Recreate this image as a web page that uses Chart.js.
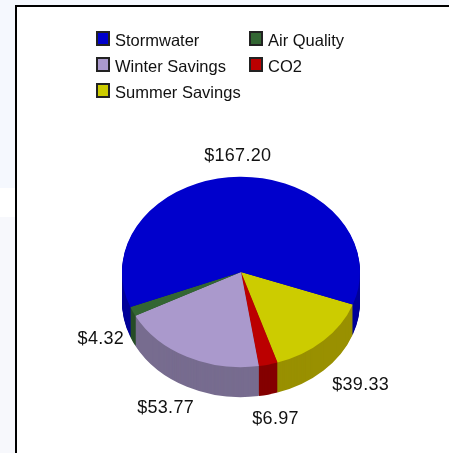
<!DOCTYPE html>
<html>
<head>
<meta charset="utf-8">
<title>Savings pie</title>
<script src="https://cdn.jsdelivr.net/npm/chart.js@4"></script>
<style>
  html, body { margin: 0; padding: 0; width: 449px; height: 453px; overflow: hidden; }
  body { background: linear-gradient(#f5f8fe 0, #f5f8fe 188px, #ffffff 188px, #ffffff 217px, #f7f8fc 217px); position: relative; }
  #frame { position: absolute; left: 15px; top: 5px; width: 434px; height: 448px; background: #fff; border-left: 2px solid #000; border-top: 2px solid #000; box-sizing: border-box; }
  #pie { position: absolute; left: 0; top: 0; }
  #legend { position: absolute; left: 96px; top: 28px; display: grid; grid-template-columns: 153px auto; row-gap: 6px; font: 16.5px "Liberation Sans", Arial, sans-serif; color: #111; }
  #legend div { display: flex; align-items: center; height: 20px; white-space: nowrap; }
  #legend i { width: 10px; height: 11px; border: 2px solid #222; margin-right: 5px; display: block; }
  #legend span { position: relative; top: 2px; }
</style>
</head>
<body>
<div id="frame"></div>
<canvas id="pie" width="449" height="453"></canvas>
<div id="legend"></div>
<script>
// data, in legend order
const categories = ['Stormwater', 'Air Quality', 'Winter Savings', 'CO2', 'Summer Savings'];
const amounts = [167.20, 4.32, 53.77, 6.97, 39.33];
const amountLabels = ['$167.20', '$4.32', '$53.77', '$6.97', '$39.33'];
const topColors = ['#0000cc', '#336633', '#aa99cc', '#bb0000', '#cccc00'];
const sideColors = ['#000099', '#264d26', '#776c8f', '#840000', '#999000'];
const labelNudgeX = [-1, 5, -3, -2, 9];
const labelNudgeY = [4, 2, -1, 0, 1];

const squash = 0.8;
const depth = 30;

// legend------
const legendBox = document.getElementById('legend');
categories.forEach(function (name, i) {
  const row = document.createElement('div');
  const swatch = document.createElement('i');
  const text = document.createElement('span');
  swatch.style.background = topColors[i];
  text.textContent = name;
  row.appendChild(swatch);
  row.appendChild(text);
  legendBox.appendChild(row);
});

function flatten(ctx, cy, shift) {
  ctx.translate(0, cy + shift);
  ctx.scale(1, squash);
  ctx.translate(0, -cy);
}

// tilted look: sides first, then the top squashed, then the amounts
const tiltPlugin = {
  id: 'tilt',
  beforeDatasetsDraw(chart) {
    const ctx = chart.ctx;
    const arcs = chart.getDatasetMeta(0).data;
    for (let d = depth; d > 0; d--) {
      arcs.forEach(function (arc, i) {
        const keep = arc.options;
        arc.options = Object.assign({}, keep, { backgroundColor: sideColors[arcs.length - 1 - i], borderWidth: 0 });
        ctx.save();
        flatten(ctx, arc.y, d);
        arc.draw(ctx);
        ctx.restore();
        arc.options = keep;
      });
    }
  },
  beforeDatasetDraw(chart) {
    const arc = chart.getDatasetMeta(0).data[0];
    chart.ctx.save();
    flatten(chart.ctx, arc.y, 0);
  },
  afterDatasetDraw(chart) {
    chart.ctx.restore();
  },
  afterDatasetsDraw(chart) {
    const ctx = chart.ctx;
    const arcs = chart.getDatasetMeta(0).data;
    ctx.save();
    ctx.font = '18px "Liberation Sans", Arial, sans-serif';
    ctx.fillStyle = '#111';
    ctx.textAlign = 'center';
    ctx.textBaseline = 'middle';
    ctx.letterSpacing = '0.3px';
    arcs.forEach(function (arc, i) {
      const n = arcs.length - 1 - i;
      const mid = (arc.startAngle + arc.endAngle) / 2;
      const sin = Math.sin(mid);
      const r = arc.outerRadius;
      const x = arc.x + r * 1.34 * Math.cos(mid) + labelNudgeX[n];
      const y = arc.y + r * 1.01 * sin + (sin > 0 ? depth * Math.min(1, sin * 1.2) : 0) + labelNudgeY[n];
      ctx.fillText(amountLabels[n], x, y);
    });
    ctx.restore();
  }
};

// pie runs the other way round from the legend so copy reversed
new Chart(document.getElementById('pie').getContext('2d'), {
  type: 'pie',
  data: {
    labels: categories.slice().reverse(),
    datasets: [{
      data: amounts.slice().reverse(),
      backgroundColor: topColors.slice().reverse(),
      borderWidth: 0
    }]
  },
  options: {
    responsive: false,
    animation: false,
    rotation: 110,
    layout: { padding: { left: 122, right: 89, top: 153, bottom: 62 } },
    plugins: { legend: { display: false }, tooltip: { enabled: false } }
  },
  plugins: [tiltPlugin]
});
</script>
</body>
</html>
